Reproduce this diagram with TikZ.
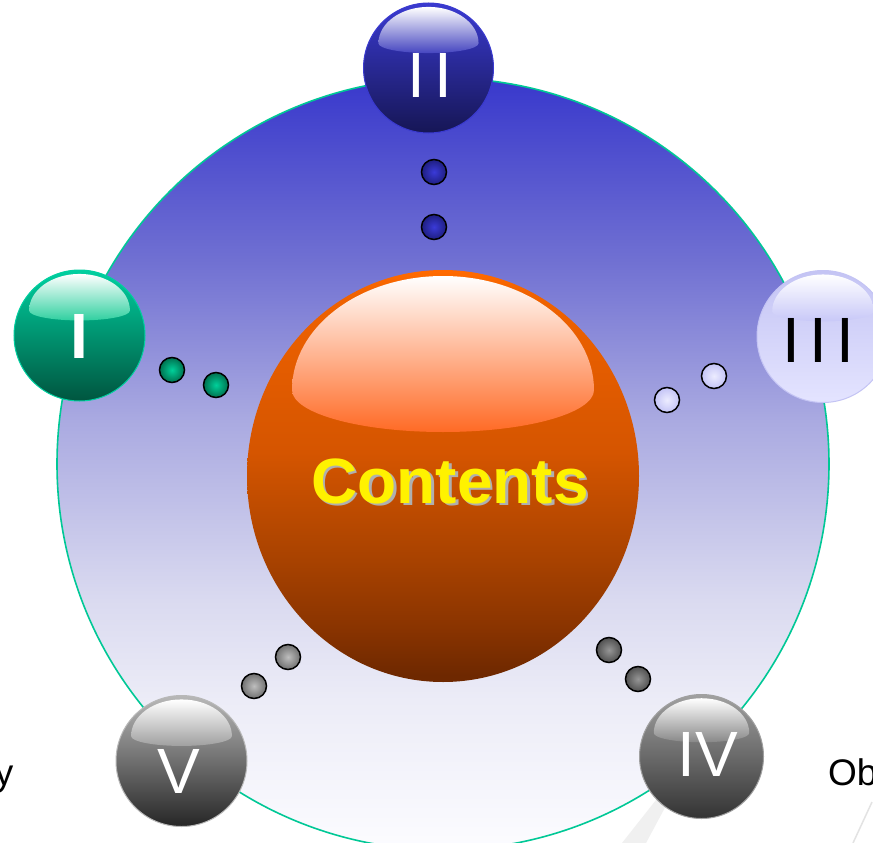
\documentclass[tikz,border=0pt]{standalone}
\usepackage{fontspec}
\setmainfont{Liberation Sans}
\definecolor{bgTop}{RGB}{56,56,204}
\definecolor{bgA}{RGB}{112,112,210}
\definecolor{bgB}{RGB}{170,170,225}
\definecolor{bgC}{RGB}{218,218,240}
\definecolor{bgD}{RGB}{236,236,247}
\definecolor{bgE}{RGB}{252,252,255}
\definecolor{rimteal}{RGB}{0,200,150}
\definecolor{cA}{RGB}{255,106,0}
\definecolor{cB}{RGB}{240,98,0}
\definecolor{cC}{RGB}{213,85,0}
\definecolor{cD}{RGB}{168,66,0}
\definecolor{cE}{RGB}{138,52,0}
\definecolor{cF}{RGB}{110,40,0}
\definecolor{hlmid}{RGB}{255,192,170}
\definecolor{hlbot}{RGB}{255,106,37}
\definecolor{shadowgray}{RGB}{175,175,175}
\definecolor{blueTop}{RGB}{58,58,208}
\definecolor{blueBot}{RGB}{22,22,85}
\definecolor{blueHl}{RGB}{70,70,192}
\definecolor{greenTop}{RGB}{0,208,160}
\definecolor{greenBot}{RGB}{0,85,63}
\definecolor{greenHl}{RGB}{48,208,160}
\definecolor{lavTop}{RGB}{196,196,244}
\definecolor{lavBot}{RGB}{228,228,255}
\definecolor{lavHl}{RGB}{200,200,248}
\definecolor{grayTop}{RGB}{160,160,160}
\definecolor{grayBot}{RGB}{51,51,51}
\definecolor{grayHl}{RGB}{136,136,136}
\definecolor{lgTop}{RGB}{184,184,184}
\definecolor{lgBot}{RGB}{38,38,38}
\definecolor{lgHl}{RGB}{160,160,160}
\definecolor{dBlueIn}{RGB}{58,58,216}
\definecolor{dBlueOut}{RGB}{30,30,128}
\definecolor{dGreenIn}{RGB}{0,208,154}
\definecolor{dGreenOut}{RGB}{0,112,79}
\definecolor{dLavIn}{RGB}{236,236,255}
\definecolor{dLavOut}{RGB}{196,196,246}
\definecolor{dGrayIn}{RGB}{150,150,150}
\definecolor{dGrayOut}{RGB}{80,80,80}
\definecolor{dLgIn}{RGB}{190,190,190}
\definecolor{dLgOut}{RGB}{112,112,112}
\pgfdeclareverticalshading{bigbg}{100bp}{color(0bp)=(bgE); color(25bp)=(bgE); color(34.7bp)=(bgD); color(41.2bp)=(bgC); color(52.8bp)=(bgB); color(63.2bp)=(bgA); color(75bp)=(bgTop); color(100bp)=(bgTop)}
\pgfdeclareverticalshading{contshade}{100bp}{color(0bp)=(cF); color(25.8bp)=(cF); color(31.7bp)=(cE); color(39.8bp)=(cD); color(52.9bp)=(cC); color(72.2bp)=(cB); color(74.8bp)=(cA); color(100bp)=(cA)}
\newcommand\myorb[6]{%
  \begin{scope}[shift={(#1,-#2)}, x=#3pt, y=#3pt]
    \shade[top color=#4, bottom color=#5, draw=#4, line width=1pt] (0,0) circle[radius=1];
    \shade[top color=white, bottom color=#6] (-0.77,0.38) arc[start angle=180,end angle=0,x radius=0.77,y radius=0.56] arc[start angle=0,end angle=-180,x radius=0.77,y radius=0.15] -- cycle;
  \end{scope}}
\newcommand\mydot[4]{%
  \shade[inner color=#3, outer color=#4] (#1,-#2) circle[radius=12.5pt];
  \draw[line width=1.5pt] (#1,-#2) circle[radius=12.5pt];}
\tikzset{
  orbtxt/.style={anchor=base, inner sep=0pt, font=\fontsize{64}{64}\selectfont},
  sidetxt/.style={inner sep=0pt, font=\fontsize{37}{37}\selectfont, text=black},
  conttxt/.style={anchor=base, inner sep=0pt, font=\bfseries\fontsize{64}{64}\selectfont}
}
\begin{document}
\begin{tikzpicture}[x=1pt,y=1pt]
\clip (0,-843) rectangle (873,0);
\fill[white] (0,-843) rectangle (873,0);
% watermark stripes
\fill[gray!12] (656,-800) -- (669,-800) -- (646,-843) -- (622,-843) -- cycle;
\draw[gray!22, line width=1.5pt] (872,-802) -- (853,-843);
% big circle
\shade[shading=bigbg] (443,-464) circle[radius=386pt];
\draw[rimteal, line width=1.6pt] (443,-464) circle[radius=386pt];
% central sphere
\shade[shading=contshade] (443,-476) ellipse[x radius=196pt, y radius=206pt];
\shade[top color=white, middle color=hlmid, bottom color=hlbot] (292,-390) arc[start angle=180,end angle=0,x radius=151pt,y radius=114pt] arc[start angle=0,end angle=-180,x radius=151pt,y radius=42pt] -- cycle;
\node[conttxt, text=shadowgray] (contshadow) at (452.5,-505.5) {Contents};
\node[conttxt, text=yellow] (contents) at (450,-503) {Contents};
% dots
\mydot{434}{172}{dBlueIn}{dBlueOut}
\mydot{434}{227}{dBlueIn}{dBlueOut}
\mydot{172}{370}{dGreenIn}{dGreenOut}
\mydot{216}{385}{dGreenIn}{dGreenOut}
\mydot{714}{376}{dLavIn}{dLavOut}
\mydot{667}{400}{dLavIn}{dLavOut}
\mydot{609}{650}{dGrayIn}{dGrayOut}
\mydot{638}{679}{dGrayIn}{dGrayOut}
\mydot{288}{657}{dLgIn}{dLgOut}
\mydot{254}{686}{dLgIn}{dLgOut}
% orbs
\myorb{428.5}{68}{65}{blueTop}{blueBot}{blueHl}
\myorb{79.5}{335.5}{65.5}{greenTop}{greenBot}{greenHl}
\myorb{823}{336.5}{66}{lavTop}{lavBot}{lavHl}
\myorb{701.5}{756.5}{62}{grayTop}{grayBot}{grayHl}
\myorb{181.5}{761}{65.5}{lgTop}{lgBot}{lgHl}
% labels
\node[orbtxt, text=white] (two) at (430,-98) {I\hspace{9pt}I};
\node[orbtxt, text=white, font=\bfseries\fontsize{64}{64}\selectfont] (one) at (79,-358) {I};
\node[orbtxt, text=black] (three) at (818.5,-362) {I\hspace{9pt}I\hspace{9pt}I};
\node[orbtxt, text=white] (four) at (708,-776) {IV};
\node[orbtxt, text=white] (five) at (179,-793) {V};
\node[sidetxt, anchor=base east] (lefttxt) at (13.5,-785) {y};
\node[sidetxt, anchor=base west] (righttxt) at (828,-785) {Ob};
\end{tikzpicture}
\end{document}
